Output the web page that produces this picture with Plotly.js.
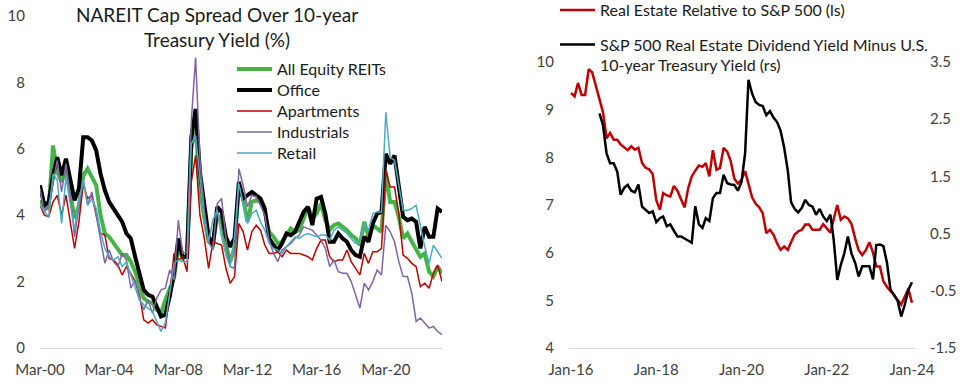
<!DOCTYPE html>
<html><head><meta charset="utf-8">
<script src="https://cdn.plot.ly/plotly-3.0.1.min.js"></script>
<style>html,body{margin:0;padding:0;background:#fff}#chart{width:970px;height:387px}</style>
</head><body><div id="chart"></div>
<script>
// ---- Left panel: NAREIT cap spread over 10y Treasury (%), quarterly from Mar-00 ----
const capStart = [2000, 3];
const capNames = ['All Equity REITs', 'Office', 'Apartments', 'Industrials', 'Retail'];
const allEquity = [
 4.45,4.25,4.2,6.1,5.3,5.0,5.4,4.6,3.9,4.3,
 5.2,5.4,5.15,4.9,4.0,3.45,3.35,3.15,3.0,2.8,
 2.8,2.6,2.3,1.9,1.5,1.4,1.35,1.15,1.05,1.45,
 1.8,2.1,3.05,2.7,2.8,6.0,6.7,4.8,3.9,3.2,
 3.1,4.0,3.8,3.1,2.6,3.0,4.9,4.5,3.8,4.4,
 4.45,4.4,4.1,3.5,3.35,3.15,3.2,3.4,3.6,3.5,
 3.55,3.9,4.25,3.9,4.05,4.35,3.85,3.55,3.7,3.75,
 3.65,3.55,3.4,3.3,3.1,3.8,3.35,3.7,3.6,3.5,
 5.3,4.4,4.4,3.95,3.3,3.45,3.2,3.0,2.75,2.85,
 2.3,2.15,2.45,2.25];
const office = [
 4.9,4.3,4.4,5.2,5.75,5.2,5.7,5.0,4.45,4.8,
 6.35,6.35,6.25,5.95,5.25,4.75,4.4,4.2,4.0,3.8,
 3.45,3.3,2.75,2.3,1.75,1.6,1.55,1.25,0.95,1.0,
 1.55,2.25,3.3,2.75,2.75,6.35,7.2,5.3,4.25,3.35,
 3.1,4.25,4.1,3.35,3.05,3.3,5.0,4.5,4.6,4.7,
 4.6,4.5,4.2,3.3,3.1,2.95,3.15,3.45,3.4,3.5,
 3.8,4.1,4.25,3.7,4.5,4.55,4.05,3.2,3.2,3.45,
 3.3,3.2,2.95,2.8,2.75,3.35,3.2,3.75,4.05,4.1,
 5.85,5.55,5.8,4.95,3.95,3.85,3.9,3.8,3.0,3.65,
 3.35,3.35,4.2,4.1];
const apartments = [
 4.3,4.0,3.95,4.4,4.6,4.0,4.6,3.75,3.0,3.8,
 4.95,4.5,4.6,4.0,3.45,3.4,2.7,2.65,2.5,2.2,
 2.45,2.25,2.0,1.6,0.85,0.75,0.85,0.7,0.65,0.6,
 1.6,2.85,2.65,2.75,2.3,5.0,5.8,4.0,3.3,2.4,
 3.2,3.15,3.1,2.4,1.95,2.15,3.75,3.5,2.95,3.5,
 3.7,3.55,3.1,2.85,2.85,2.9,2.75,2.95,2.85,2.85,
 2.85,2.8,2.75,2.65,3.0,3.25,3.25,2.75,2.6,2.65,
 2.65,2.95,2.6,2.4,2.2,2.85,2.55,2.9,2.9,3.0,
 5.35,4.85,4.85,4.05,2.8,2.7,2.55,2.45,1.85,1.95,
 1.8,2.25,2.5,2.0];
const industrials = [
 4.8,4.1,4.3,5.0,5.65,4.7,5.55,4.6,3.35,4.25,
 5.05,4.3,4.7,4.0,3.2,2.55,2.95,2.6,2.45,2.85,
 2.65,1.8,2.05,1.5,1.15,1.45,1.05,1.5,1.75,1.8,
 2.35,2.05,3.85,2.85,2.9,6.85,8.75,5.65,4.15,3.2,
 2.95,4.35,4.5,3.3,2.45,2.4,5.4,4.9,4.25,4.6,
 4.55,4.3,4.0,3.25,2.85,2.6,2.95,3.05,3.15,3.3,
 3.4,3.65,3.6,3.55,3.4,3.25,3.0,2.45,2.65,2.3,
 2.25,2.25,2.0,1.6,1.2,1.95,1.75,2.0,2.35,2.2,
 3.7,3.5,3.2,2.6,2.15,2.15,1.65,0.8,0.9,0.75,
 0.6,0.65,0.5,0.4];
const retail = [
 4.3,4.1,3.95,5.25,5.05,3.75,5.15,4.3,3.55,4.45,
 5.05,4.3,4.5,4.2,3.5,3.0,2.75,2.65,2.75,2.45,
 2.6,2.2,1.8,1.45,1.3,1.2,1.1,0.8,0.5,0.75,
 1.6,2.55,2.65,2.6,2.6,6.15,6.4,5.05,3.85,3.2,
 3.85,4.15,3.35,2.8,2.45,3.35,4.95,4.35,3.75,4.05,
 4.15,3.8,3.55,3.15,3.0,2.95,2.85,3.05,3.2,3.35,
 3.3,3.4,3.45,3.4,3.35,3.4,3.4,3.25,3.55,3.65,
 3.55,3.45,3.3,3.15,3.2,3.75,3.55,4.05,4.1,4.1,
 7.1,5.75,5.65,4.85,4.15,4.15,4.2,4.3,3.65,3.05,
 2.55,3.1,2.9,2.7];
const capColors = ['#45b345', '#000000', '#c00000', '#8064a2', '#4bacc6'];
const capWidths = [4, 4, 1.5, 1.5, 1.5];

// ---- Right panel: monthly from Jan-16 ----
const relStart = [2016, 1];
const relName = 'Real Estate Relative to S&P 500 (ls)';
const reRelative = [
 9.35,9.28,9.56,9.31,9.31,9.85,9.78,9.5,9.28,8.95,
 8.4,8.51,8.37,8.37,8.27,8.2,8.15,8.23,8.16,8.2,
 7.88,7.78,7.75,7.65,7.1,6.9,7.25,7.2,7.18,7.4,
 7.3,7.12,6.95,7.35,7.6,7.72,7.83,7.8,7.88,7.6,
 8.15,7.74,7.78,8.2,8.12,7.92,7.55,7.45,7.53,7.71,
 7.43,7.16,7.03,6.95,6.83,6.41,6.48,6.38,6.2,6.06,
 6.13,6.06,6.22,6.38,6.45,6.48,6.59,6.59,6.48,6.48,
 6.48,6.6,6.5,6.42,6.7,7.0,6.69,6.76,6.72,6.6,
 6.3,6.05,5.95,6.05,6.22,6.0,5.71,5.71,5.4,5.28,
 5.2,5.1,5.01,4.91,5.08,5.24,4.95];
const divStart = [2016, 9];
const divName = 'S&P 500 Real Estate Dividend Yield Minus U.S.<br>10-year Treasury Yield (rs)';
const divSpread = [
 2.6,2.4,1.9,1.73,1.73,1.58,1.18,1.3,1.35,1.25,
 1.22,1.36,0.97,0.92,0.86,0.89,0.7,0.77,0.8,0.63,
 0.66,0.55,0.45,0.45,0.41,0.38,0.34,0.98,0.66,0.6,
 0.77,0.72,1.12,1.21,1.21,1.53,1.38,1.36,1.35,1.25,
 1.4,1.9,3.19,2.95,2.8,2.75,2.73,2.57,2.64,2.53,
 2.45,2.3,2.0,1.6,1.05,0.93,0.87,0.95,1.09,1.0,
 0.97,0.83,0.93,0.8,0.72,0.83,0.4,-0.31,-0.05,0.16,
 0.45,0.15,-0.01,-0.25,-0.07,-0.07,-0.07,-0.3,0.3,0.31,
 0.28,-0.01,-0.48,-0.57,-0.68,-0.95,-0.74,-0.48,-0.35];
const rsTickVals = [-1.5, -0.5, 0.5, 1.5, 2.5, 3.5];
const rsTickText = ['-1.5', '-0.5', '0.5', '1.5', '2.5', '3.5'];

function dates(start, n, step) {
  const out = [];
  for (let i = 0; i < n; i++) {
    const t = (start[1] - 1) + i * step;
    const y = start[0] + Math.floor(t / 12);
    const m = t % 12 + 1;
    out.push(y + '-' + String(m).padStart(2, '0') + '-01');
  }
  return out;
}

const W = 970, H = 387;
const px = v => v / W, py = v => 1 - v / H;
const FONT = 'Lato, "Open Sans", sans-serif';
const TXT = '#404040';
const legFont = {family: FONT, size: 16, color: '#1a1a1a'};

const capSeries = [allEquity, office, apartments, industrials, retail];
const capLegendY = [69, 90, 111, 132, 153];
const traces = capSeries.map((s, i) => ({
  type: 'scatter', mode: 'lines', name: capNames[i],
  x: dates(capStart, s.length, 3), y: s,
  xaxis: 'x', yaxis: 'y', legend: i === 0 ? 'legend' : 'legend' + (i + 1),
  line: {color: capColors[i], width: capWidths[i]}
}));
traces.push({
  type: 'scatter', mode: 'lines', name: relName,
  x: dates(relStart, reRelative.length, 1), y: reRelative,
  xaxis: 'x2', yaxis: 'y2', legend: 'legend6',
  line: {color: '#c00000', width: 2.5}
});
traces.push({
  type: 'scatter', mode: 'lines', name: divName,
  x: dates(divStart, divSpread.length, 1), y: divSpread,
  xaxis: 'x2', yaxis: 'y3', legend: 'legend7',
  line: {color: '#000000', width: 2.5}
});

const tickFont = {family: FONT, size: 15, color: TXT};

function leg(xPx, yPx, anchor, extra) {
  return Object.assign({
    x: px(xPx), xanchor: 'left', y: py(yPx), yanchor: anchor,
    bgcolor: 'rgba(0,0,0,0)', font: legFont, itemwidth: 35, borderwidth: 0
  }, extra || {});
}

const layout = {
  width: W, height: H,
  margin: {l: 0, r: 0, t: 0, b: 0, autoexpand: false},
  paper_bgcolor: '#fff', plot_bgcolor: '#fff',
  showlegend: true,
  xaxis: {
    domain: [px(40), px(442)], anchor: 'y', type: 'date',
    range: ['2000-03-01', '2023-06-01'],
    tick0: '2000-03-01', dtick: 'M48', tickformat: '%b-%y',
    showgrid: false, zeroline: false, showline: true, linecolor: '#d9d9d9', linewidth: 1,
    ticks: '', tickfont: tickFont, ticklabelstandoff: 8
  },
  yaxis: {
    domain: [py(348), py(16)], anchor: 'x', range: [0, 10], dtick: 2, tick0: 0,
    showgrid: false, zeroline: false, showline: false, ticks: '',
    tickfont: tickFont, ticklabelstandoff: 14
  },
  xaxis2: {
    domain: [px(569), px(915)], anchor: 'y2', type: 'date',
    range: ['2015-12-15', '2024-01-27'],
    tick0: '2016-01-01', dtick: 'M24', tickformat: '%b-%y',
    showgrid: false, zeroline: false, showline: true, linecolor: '#d9d9d9', linewidth: 1,
    ticks: '', tickfont: tickFont, ticklabelstandoff: 8
  },
  yaxis2: {
    domain: [py(348), py(62)], anchor: 'x2', range: [4, 10], dtick: 1, tick0: 4,
    showgrid: false, zeroline: false, showline: false, ticks: '',
    tickfont: tickFont, ticklabelstandoff: 14
  },
  yaxis3: {
    overlaying: 'y2', side: 'right', anchor: 'x2', range: [-1.5, 3.5],
    tickmode: 'array', tickvals: rsTickVals, ticktext: rsTickText,
    showgrid: false, zeroline: false, showline: false, ticks: '',
    tickfont: tickFont, ticklabelstandoff: 14
  },
  legend: leg(232, capLegendY[0], 'middle'),
  legend2: leg(232, capLegendY[1], 'middle'),
  legend3: leg(232, capLegendY[2], 'middle'),
  legend4: leg(232, capLegendY[3], 'middle'),
  legend5: leg(232, capLegendY[4], 'middle'),
  legend6: leg(555, 10, 'middle'),
  legend7: leg(555, 55, 'middle', {valign: 'top'}),
  annotations: [{
    xref: 'paper', yref: 'paper', x: px(217), y: py(27),
    xanchor: 'center', yanchor: 'middle', showarrow: false,
    text: 'NAREIT Cap Spread Over 10-year<br>Treasury Yield (%)',
    font: {family: FONT, size: 19, color: '#1a1a1a'}
  }]
};

Plotly.newPlot('chart', traces, layout, {displayModeBar: false, staticPlot: true});
</script>
</body></html>
